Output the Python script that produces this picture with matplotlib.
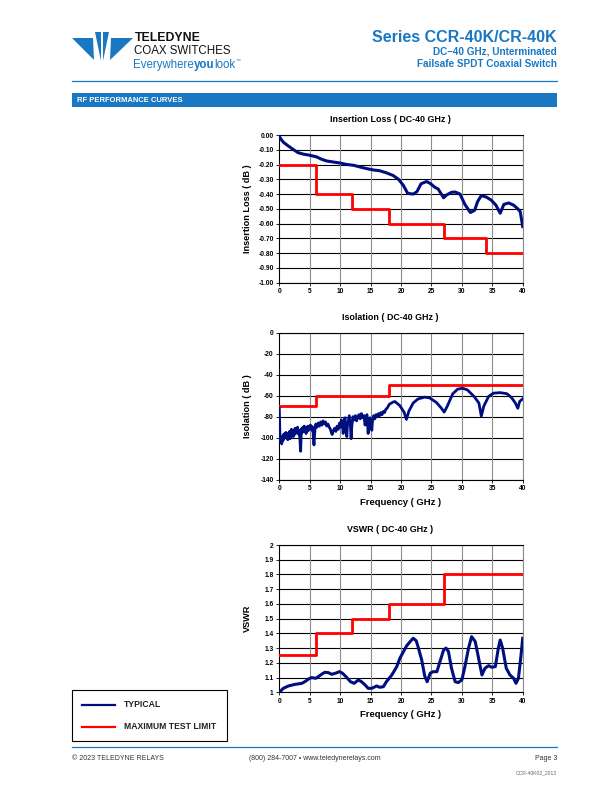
import matplotlib
matplotlib.use("Agg")
import matplotlib.pyplot as plt
from matplotlib.patches import Polygon, Rectangle

plt.rcParams['font.family'] = ['Liberation Sans', 'DejaVu Sans']

BLUE_LINE = '#000f7f'
RED_LINE = '#ff0000'
BRAND = '#1a78c2'

# ---- data ----
freq_ticks = [0, 5, 10, 15, 20, 25, 30, 35, 40]

il_freq = [0, 0.3, 0.7, 1.5, 2.3, 3.1, 4.0, 5.0, 6.1, 7.0, 7.8, 8.9, 10.0, 11.0,
           12.2, 13.3, 14.4, 15.5, 16.5, 17.6, 18.7, 19.6, 20.4, 21.1, 22.0, 22.6,
           23.3, 24.2, 24.8, 25.6, 26.1, 27.0, 27.5, 28.3, 28.9, 29.7, 30.5, 31.4,
           32.1, 32.6, 33.2, 34.0, 34.8, 35.6, 36.3, 36.9, 37.7, 38.5, 39.2, 39.6, 40.0]
il_typ = [-0.01, -0.03, -0.05, -0.075, -0.098, -0.12, -0.13, -0.137, -0.148, -0.165,
          -0.176, -0.183, -0.19, -0.199, -0.205, -0.217, -0.228, -0.237, -0.242, -0.256,
          -0.274, -0.30, -0.342, -0.395, -0.40, -0.385, -0.33, -0.315, -0.328, -0.355,
          -0.365, -0.425, -0.406, -0.388, -0.386, -0.40, -0.47, -0.525, -0.51, -0.45,
          -0.41, -0.42, -0.44, -0.475, -0.53, -0.47, -0.46, -0.475, -0.50, -0.52, -0.62]
il_lim_edges = [0, 6, 12, 18, 27, 34, 40]
il_lim = [-0.2, -0.4, -0.5, -0.6, -0.7, -0.8, -0.8]
il_ticks = [0.0, -0.1, -0.2, -0.3, -0.4, -0.5, -0.6, -0.7, -0.8, -0.9, -1.0]

iso_freq = [0.0, 0.1, 0.2, 0.3, 0.4, 0.5, 0.6, 0.7, 0.8, 0.9, 1.0, 1.1, 1.2, 1.3, 1.4,
            1.5, 1.6, 1.7, 1.8, 1.9, 2.0, 2.1, 2.2, 2.3, 2.4, 2.5, 2.6, 2.7, 2.8, 2.9,
            3.0, 3.1, 3.2, 3.3, 3.4, 3.5, 3.6, 3.7, 3.8, 3.9, 4.0, 4.1, 4.2, 4.3, 4.4,
            4.5, 4.6, 4.7, 4.8, 4.9, 5.0, 5.1, 5.2, 5.3, 5.4, 5.5, 5.6, 5.7, 5.8, 5.9,
            6.0, 6.2, 6.4, 6.6, 6.8, 7.0, 7.2, 7.4, 7.6, 7.8, 8.0, 8.2, 8.4, 8.6, 8.7,
            8.9, 9.1, 9.3, 9.5, 9.7, 9.9, 10.1, 10.2, 10.4, 10.5, 10.6, 10.8, 10.9, 11.1,
            11.2, 11.4, 11.5, 11.7, 11.8, 11.9, 12.1, 12.3, 12.5, 12.7, 12.9, 13.1, 13.3,
            13.5, 13.7, 13.9, 14.1, 14.2, 14.4, 14.5, 14.6, 14.7, 14.9, 15.1, 15.2, 15.3,
            15.5, 15.7, 15.9, 16.1, 16.3, 16.5, 16.7, 16.9, 17.1, 17.3, 17.5, 17.7, 17.9,
            18.1, 18.4, 18.7, 19.0, 19.8, 20.5, 20.9, 21.3, 22.0, 22.8, 23.9, 24.7, 25.8,
            26.6, 27.1, 27.6, 28.5, 29.3, 30.1, 30.9, 32.0, 32.8, 33.2, 33.6, 34.4, 35.2,
            36.3, 37.4, 38.2, 38.8, 39.2, 39.5, 40.0]
iso_typ = [-72, -96, -104, -100, -106, -99, -103, -97, -101, -96, -100, -95, -99, -97, -102,
           -96, -99, -94, -101, -95, -92, -98, -94, -99, -93, -97, -91, -96, -92, -95,
           -90, -94, -97, -93, -104, -113, -98, -91, -95, -90, -93, -89, -94, -90, -96,
           -91, -94, -89, -93, -90, -92, -88, -91, -89, -93, -90, -100, -107, -97, -90,
           -87, -90, -86, -89, -85, -88, -84, -87, -85, -89, -87, -90, -92, -96, -97,
           -93, -91, -94, -89, -92, -86, -90, -83, -88, -96, -86, -81, -90, -99,
           -88, -82, -79, -90, -101, -90, -80, -83, -79, -84, -80, -78, -82,
           -77, -81, -79, -88, -84, -78, -86, -96, -88, -81, -86, -93, -85,
           -79, -82, -78, -80, -77, -79, -76, -78, -75, -76, -73, -72, -70,
           -68, -67, -66, -65.5, -69.4, -75.6, -82.5, -74.6, -66.9, -63, -61.3, -62, -66.3,
           -71.6, -75.6, -70, -58.1, -53.7, -52.8, -54.3, -60.6, -66.9, -79.4, -70, -60.6, -57.5,
           -57, -58, -62, -67, -72, -65.4, -63]
iso_lim_edges = [0, 6, 18, 40]
iso_lim = [-70, -60, -50, -50]
iso_ticks = [0, -20, -40, -60, -80, -100, -120, -140]

vswr_freq = [0, 0.66, 1.5, 2.6, 3.7, 4.2, 4.8, 5.3, 6.0, 6.4, 7.0, 7.5, 8.1, 8.6, 9.2,
             9.9, 10.4, 11.1, 11.7, 12.3, 13.0, 13.5, 14.1, 14.6, 15.2, 16.0, 16.5, 17.1,
             17.6, 18.5, 19.3, 19.8, 20.4, 20.9, 21.5, 22.0, 22.5, 22.8, 23.4, 23.9, 24.3,
             24.8, 25.3, 25.9, 26.4, 27.0, 27.4, 27.8, 28.3, 28.9, 29.4, 30.0, 30.5, 31.1,
             31.6, 32.2, 32.7, 33.3, 33.8, 34.4, 34.9, 35.5, 36.0, 36.3, 36.7, 37.3, 37.9,
             38.5, 38.9, 39.3, 39.7, 40.0]
vswr_typ = [1.0, 1.027, 1.043, 1.054, 1.061, 1.072, 1.09, 1.10, 1.095, 1.106, 1.124, 1.136,
            1.133, 1.122, 1.129, 1.14, 1.129, 1.10, 1.072, 1.061, 1.084, 1.072, 1.05, 1.027,
            1.027, 1.043, 1.034, 1.038, 1.072, 1.118, 1.174, 1.23, 1.276, 1.314, 1.344, 1.367,
            1.35, 1.31, 1.22, 1.11, 1.072, 1.13, 1.14, 1.14, 1.208, 1.287, 1.30, 1.276, 1.163,
            1.072, 1.066, 1.084, 1.174, 1.30, 1.378, 1.344, 1.242, 1.118, 1.163, 1.181, 1.17,
            1.174, 1.30, 1.355, 1.30, 1.163, 1.118, 1.095, 1.061, 1.095, 1.242, 1.367]
vswr_lim_edges = [0, 6, 12, 18, 27, 40]
vswr_lim = [1.25, 1.4, 1.5, 1.6, 1.8, 1.8]
vswr_ticks = [1, 1.1, 1.2, 1.3, 1.4, 1.5, 1.6, 1.7, 1.8, 1.9, 2]

W, H = 612, 792
fig = plt.figure(figsize=(W / 100, H / 100), dpi=100)

# page overlay in pixel coordinates
bg = fig.add_axes([0, 0, 1, 1])
bg.set_xlim(0, W)
bg.set_ylim(H, 0)
bg.axis('off')

# logo
logo = [
    [(72, 38), (93, 38), (94, 60)],
    [(95, 32), (101, 32), (101, 61)],
    [(103, 32), (109, 32), (103, 61)],
    [(111, 38), (133, 38), (110, 60)],
]
for tri in logo:
    bg.add_patch(Polygon(tri, closed=True, color=BRAND, lw=0))
bg.text(135, 38, 'TELEDYNE', fontsize=8.8, fontweight='bold', color='#111111', va='center', ha='left')
bg.text(134, 51.5, 'COAX SWITCHES', fontsize=8.3, color='#111111', va='center', ha='left')

fig.canvas.draw()
rend = fig.canvas.get_renderer()
t1 = bg.text(133, 65, 'Everywhere', fontsize=8.3, color=BRAND, va='center', ha='left')
x_next = bg.transData.inverted().transform(t1.get_window_extent(rend))[1][0]
t2 = bg.text(x_next, 65, 'you', fontsize=8.3, fontweight='bold', color=BRAND, va='center', ha='left')
x_next = bg.transData.inverted().transform(t2.get_window_extent(rend))[1][0]
t3 = bg.text(x_next, 65, 'look', fontsize=8.3, color=BRAND, va='center', ha='left')
x_next = bg.transData.inverted().transform(t3.get_window_extent(rend))[1][0]
bg.text(x_next + 0.5, 60, '\u2122', fontsize=3.5, color=BRAND, va='center', ha='left')

bg.text(557, 37.5, 'Series CCR-40K/CR-40K', fontsize=11.5, fontweight='bold', color=BRAND,
        ha='right', va='center')
bg.text(557, 52, 'DC\u201340 GHz, Unterminated', fontsize=7.2, fontweight='bold', color=BRAND,
        ha='right', va='center')
bg.text(557, 64, 'Failsafe SPDT Coaxial Switch', fontsize=7.2, fontweight='bold', color=BRAND,
        ha='right', va='center')
bg.plot([72, 557], [81, 81], color=BRAND, lw=0.9)
bg.add_patch(Rectangle((72, 93), 485, 14, color=BRAND, lw=0))
bg.text(77, 100, 'RF PERFORMANCE CURVES', fontsize=5.5, fontweight='bold', color='white',
        ha='left', va='center')

# legend box
bg.add_patch(Rectangle((72, 690), 155, 51, fill=False, ec='black', lw=0.8))
bg.plot([82, 115], [704.5, 704.5], color=BLUE_LINE, lw=1.6)
bg.plot([82, 115], [726.5, 726.5], color=RED_LINE, lw=1.6)
bg.text(124, 704.5, 'TYPICAL', fontsize=6.2, fontweight='bold', color='#222222', va='center')
bg.text(124, 726.5, 'MAXIMUM TEST LIMIT', fontsize=6.2, fontweight='bold', color='#222222', va='center')

# footer
bg.plot([72, 557], [747, 747], color=BRAND, lw=0.9)
bg.text(72, 758, '\u00a9 2023 TELEDYNE RELAYS', fontsize=5, color='#333333', va='center', ha='left')
bg.text(315, 758, '(800) 284-7007 \u2022 www.teledynerelays.com', fontsize=5, color='#333333',
        va='center', ha='center')
bg.text(557, 758, 'Page 3', fontsize=5, color='#333333', va='center', ha='right')
bg.text(557, 773, 'CCR-40K02_2013', fontsize=3.6, color='#666666', va='center', ha='right')


def frac(top, bottom):
    return [279.3 / W, 1 - bottom / H, 243.4 / W, (bottom - top) / H]


def style(ax, ylim, yticks, yfmt, title, ylabel, xlabel=None):
    ax.set_xlim(0, 40)
    ax.set_ylim(*ylim)
    ax.set_xticks(freq_ticks)
    ax.set_yticks(yticks)
    ax.set_xticklabels([str(v) for v in freq_ticks], fontsize=4.8, fontweight='bold')
    ax.set_yticklabels([yfmt(v) for v in yticks], fontsize=4.8, fontweight='bold')
    ax.tick_params(length=2, width=0.6, pad=2, direction='out')
    for y in yticks:
        ax.axhline(y, color='black', lw=0.8, zorder=1)
    for x in freq_ticks[1:]:
        ax.axvline(x, color='#8c8c8c', lw=0.8, zorder=1)
    for s in ax.spines.values():
        s.set_linewidth(0.8)
        s.set_color('black')
    ax.spines['right'].set_color('#8c8c8c')
    # title is centred over the whole chart block, a bit left of the plot centre
    ax.set_title(title, fontsize=6.4, fontweight='bold', pad=9, x=0.455)
    ax.set_ylabel(ylabel, fontsize=6.6, fontweight='bold')
    ax.yaxis.set_label_coords(-0.112, 0.5)
    if xlabel:
        ax.set_xlabel(xlabel, fontsize=6.8, fontweight='bold', labelpad=4)


ax1 = fig.add_axes(frac(135, 282.7))
ax1.step(il_lim_edges, il_lim, where='post', color=RED_LINE, lw=2.0, zorder=3)
ax1.plot(il_freq, il_typ, color=BLUE_LINE, lw=2.2, zorder=4)
style(ax1, (-1.0, 0.0), il_ticks, lambda v: '%.2f' % v if v != 0 else '0.00',
      'Insertion Loss ( DC-40 GHz )', 'Insertion Loss ( dB )')

ax2 = fig.add_axes(frac(333, 479.5))
ax2.step(iso_lim_edges, iso_lim, where='post', color=RED_LINE, lw=2.0, zorder=3)
ax2.plot(iso_freq, iso_typ, color=BLUE_LINE, lw=2.0, zorder=4)
style(ax2, (-140, 0), iso_ticks, lambda v: '%d' % v,
      'Isolation ( DC-40 GHz )', 'Isolation ( dB )', 'Frequency ( GHz )')

ax3 = fig.add_axes(frac(545, 692.3))
ax3.step(vswr_lim_edges, vswr_lim, where='post', color=RED_LINE, lw=2.0, zorder=3)
ax3.plot(vswr_freq, vswr_typ, color=BLUE_LINE, lw=2.2, zorder=4)
style(ax3, (1, 2), vswr_ticks, lambda v: '%g' % v,
      'VSWR ( DC-40 GHz )', 'VSWR', 'Frequency ( GHz )')

fig.savefig('out.png', dpi=100)
